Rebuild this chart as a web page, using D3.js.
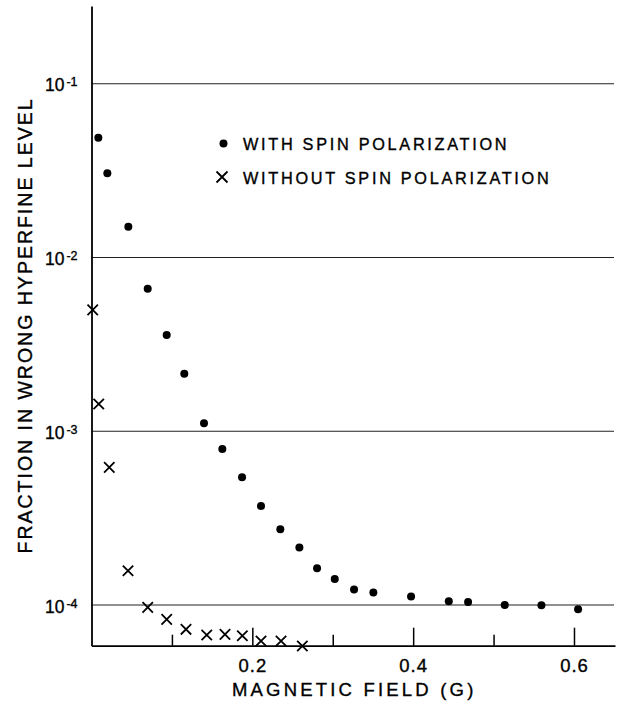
<!DOCTYPE html>
<html>
<head>
<meta charset="utf-8">
<script src="https://cdn.jsdelivr.net/npm/d3@7"></script>
<style>
  html, body { margin: 0; padding: 0; background: #fff; }
  svg { display: block; font-family: "Liberation Sans", Arial, Helvetica, sans-serif; }
  svg text { stroke: #000; stroke-width: 0.35px; }
</style>
</head>
<body>
<svg id="chart" width="618" height="705"></svg>
<script>
// ---- data ----
const withX = [0.0085, 0.0197, 0.0458, 0.0699, 0.0935, 0.1154, 0.1399, 0.1627, 0.1872, 0.2108, 0.2348,
               0.2585, 0.2805, 0.3025, 0.3265, 0.3505, 0.3974, 0.4443, 0.4683, 0.5139, 0.5595, 0.6051];
const withY = [0.0489, 0.0305, 0.0150, 0.00661, 0.00358, 0.00214, 0.00111, 0.000791, 0.000543, 0.000371, 0.000273,
               0.000214, 0.000163, 0.000141, 0.000123, 0.000118, 0.000112, 0.000105, 0.000104, 0.000100, 0.0000998, 0.0000945];
const withoutX = [0.0015, 0.009, 0.0221, 0.0454, 0.0699, 0.0935, 0.1175, 0.1433, 0.166, 0.1876, 0.2108, 0.2357, 0.2622];
const withoutY = [0.00499, 0.001435, 0.000620, 0.0001575, 0.0000970, 0.0000827, 0.0000725, 0.0000672,
                  0.0000678, 0.0000666, 0.0000621, 0.0000621, 0.0000581];
const xMajorTicks = [0.2, 0.4, 0.6];
const xMinorTicks = [0.1, 0.3, 0.5];
const xTickLabels = ["0.2", "0.4", "0.6"];
const yTicks = [1e-1, 1e-2, 1e-3, 1e-4];
const yTickExponents = ["-1", "-2", "-3", "-4"];
const legendLabels = ["WITH SPIN POLARIZATION", "WITHOUT SPIN POLARIZATION"];
const xTitle = "MAGNETIC FIELD (G)";
const yTitle = "FRACTION IN WRONG HYPERFINE LEVEL";

// ---- layout ----
const svg = d3.select("#chart");
const x = d3.scaleLinear().domain([0, 0.651]).range([91.5, 615]);
const y = d3.scaleLog().domain([Math.pow(10, -4.234), Math.pow(10, -0.553)]).range([645.7, 6]);
const x0 = x.range()[0], x1 = x.range()[1];
const yBottom = y.range()[0];

// gridlines
svg.append("g").selectAll("line").data(yTicks).join("line")
  .attr("x1", x0).attr("x2", x1 - 1)
  .attr("y1", d => y(d)).attr("y2", d => y(d))
  .attr("stroke", "#222").attr("stroke-width", 1.1);

// x axis: major ticks with labels
const gxMajor = svg.append("g").attr("transform", `translate(0,${yBottom})`)
  .call(d3.axisBottom(x).tickValues(xMajorTicks)
    .tickFormat((d, i) => xTickLabels[i])
    .tickSizeInner(-18).tickSizeOuter(0).tickPadding(13));
gxMajor.select(".domain").attr("stroke", "#000").attr("stroke-width", 1.8);
gxMajor.selectAll(".tick line").attr("stroke", "#000").attr("stroke-width", 1.5);
gxMajor.selectAll(".tick text").attr("font-size", 18.5).attr("fill", "#000")
  .attr("letter-spacing", 1).attr("font-family", "Liberation Sans, Arial, sans-serif");

// x axis: minor ticks
const gxMinor = svg.append("g").attr("transform", `translate(0,${yBottom})`)
  .call(d3.axisBottom(x).tickValues(xMinorTicks).tickFormat("")
    .tickSizeInner(-11).tickSizeOuter(0));
gxMinor.select(".domain").remove();
gxMinor.selectAll(".tick line").attr("stroke", "#000").attr("stroke-width", 1.5);

// y axis
const gy = svg.append("g").attr("transform", `translate(${x0},0)`)
  .call(d3.axisLeft(y).tickValues(yTicks).tickFormat("").tickSize(0).tickSizeOuter(0));
gy.select(".domain").attr("stroke", "#000").attr("stroke-width", 1.8);
gy.selectAll(".tick").each(function (d, i) {
  const t = d3.select(this).append("text")
    .attr("x", -14).attr("y", 7)
    .attr("text-anchor", "end").attr("fill", "#000");
  t.append("tspan").attr("font-size", 17.5).text("10");
  t.append("tspan").attr("font-size", 12.5).attr("dx", 2).attr("dy", -5).text(yTickExponents[i]);
});

// axis titles
svg.append("text")
  .attr("x", (x0 + x1) / 2 + 1).attr("y", 696)
  .attr("text-anchor", "middle").attr("font-size", 18.5).attr("letter-spacing", 3.2)
  .attr("fill", "#000").text(xTitle);
svg.append("text")
  .attr("transform", "translate(32.3,325.5) rotate(-90)")
  .attr("text-anchor", "middle").attr("font-size", 19.5).attr("letter-spacing", 2.0)
  .attr("fill", "#000").text(yTitle);

// data: with spin polarization (dots)
svg.append("g").selectAll("circle").data(withX.map((v, i) => [v, withY[i]])).join("circle")
  .attr("cx", d => x(d[0])).attr("cy", d => y(d[1])).attr("r", 4).attr("fill", "#000");

// data: without spin polarization (crosses)
const cross = s => `M${-s},${-s}L${s},${s}M${-s},${s}L${s},${-s}`;
svg.append("g").selectAll("path").data(withoutX.map((v, i) => [v, withoutY[i]])).join("path")
  .attr("transform", d => `translate(${x(d[0])},${y(d[1])})`)
  .attr("d", cross(5.2)).attr("stroke", "#000").attr("stroke-width", 1.8).attr("fill", "none");

// legend
const lg = svg.append("g");
lg.append("circle").attr("cx", 223.5).attr("cy", 143.5).attr("r", 4).attr("fill", "#000");
lg.append("path").attr("transform", "translate(222,177)").attr("d", cross(5.5))
  .attr("stroke", "#000").attr("stroke-width", 1.8).attr("fill", "none");
lg.selectAll("text").data(legendLabels).join("text")
  .attr("x", 243).attr("y", (d, i) => 150 + i * 34)
  .attr("font-size", 16.3).attr("letter-spacing", 2.7).attr("fill", "#000")
  .text(d => d);
</script>
</body>
</html>
